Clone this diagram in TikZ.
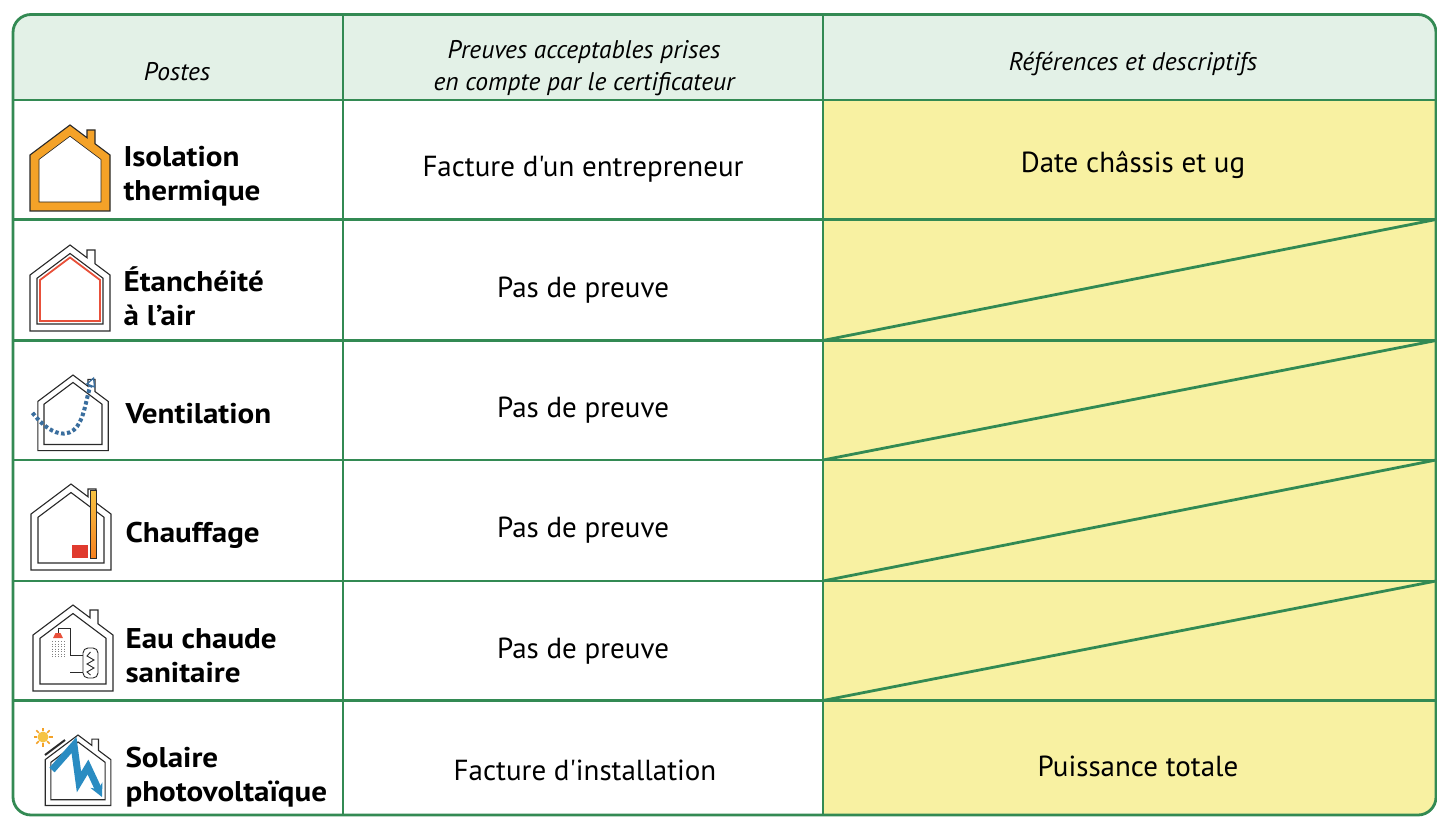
\documentclass[tikz,border=0pt]{standalone}
\usepackage{fontspec}
\newfontfamily\ptsans{PT Sans}
\newfontfamily\ptsanswide{PT Sans}[FakeStretch=1.09]
\usetikzlibrary{arrows.meta}
\definecolor{grid}{HTML}{338A53}
\definecolor{hdr}{HTML}{E3F1E7}
\definecolor{yel}{HTML}{F8F1A2}
\definecolor{orangeins}{HTML}{F4A228}
\definecolor{redair}{HTML}{E8503A}
\definecolor{ventblue}{HTML}{3A6E9E}
\definecolor{boltblue}{HTML}{2A8CC2}
\definecolor{heatred}{HTML}{E03A2E}
\definecolor{sunc}{HTML}{F6C343}
\definecolor{ink}{HTML}{2A2A2A}
\tikzset{
 gridline/.style={draw=grid, line width=2.8pt},
 vline/.style={draw=grid, line width=2.2pt},
 hdrtxt/.style={font=\ptsans\fontsize{25.5}{32}\selectfont\itshape, align=center, text=black},
 bodytxt/.style={font=\ptsans\fontsize{29}{34}\selectfont, text=black},
 postetxt/.style={font=\ptsanswide\fontsize{28.5}{34}\selectfont\bfseries, align=left, anchor=west, text=black},
 houseline/.style={draw=ink, line width=1.1pt, line join=miter},
}
\newcommand{\drawhouse}{%
 \draw[houseline] (-40,86) -- (-40,30) -- (0,0) -- (17,12.75) -- (17,5) -- (25,5) -- (25,18.75) -- (40,30) -- (40,86) -- cycle;
 \draw[houseline] (-33,79) -- (-33,33.25) -- (0,8.5) -- (33,33.25) -- (33,79) -- cycle;}
\begin{document}
\begin{tikzpicture}[x=1pt,y=-1pt]
\useasboundingbox (0,0) rectangle (1437,818);
\fill[white] (0,0) rectangle (1437,818);
% fills
\begin{scope}
\clip[rounded corners=18] (13,14.5) rectangle (1436,815);
\fill[hdr] (13,14.5) rectangle (1436,100);
\fill[yel] (823,100) rectangle (1436,815);
\end{scope}
% grid
\draw[gridline] (13,100) -- (1436,100);
\foreach \y in {219.5,340.5,460,581,700.5} \draw[gridline] (13,\y) -- (1436,\y);
\draw[gridline] (823,340.5) -- (1436,219.5);
\draw[gridline] (823,460) -- (1436,340.5);
\draw[gridline] (823,581) -- (1436,460);
\draw[gridline] (823,700.5) -- (1436,581);
\draw[vline] (343,14.5) -- (343,815);
\draw[vline] (823,14.5) -- (823,815);
\draw[gridline, rounded corners=18] (13,14.5) rectangle (1436,815);
% headers
\node[hdrtxt] (hPostes) at (177,72) {Postes};
\node[hdrtxt] (hPreuves) at (584,68) {Preuves acceptables prises\\en compte par le certificateur};
\node[hdrtxt] (hRef) at (1133,64) {Références et descriptifs};
% left labels
\node[postetxt] (p1) at (120,176) {Isolation\\thermique};
\node[postetxt] (p2) at (120,296) {Étanchéité\\à l’air};
\node[postetxt] (p3) at (122,414) {Ventilation};
\node[postetxt] (p4) at (122,535) {Chauffage};
\node[postetxt] (p5) at (122,656) {Eau chaude\\sanitaire};
\node[postetxt] (p6) at (122,777) {Solaire\\photovoltaïque};
% middle
\node[bodytxt] (m1) at (583,169) {Facture d'un entrepreneur};
\node[bodytxt] (m2) at (583,290) {Pas de preuve};
\node[bodytxt] (m3) at (583,410) {Pas de preuve};
\node[bodytxt] (m4) at (583,530) {Pas de preuve};
\node[bodytxt] (m5) at (583,651) {Pas de preuve};
\node[bodytxt] (m6) at (585,770) {Facture d'installation};
% right
\node[bodytxt] (r1) at (1133,165) {Date châssis et ug};
\node[bodytxt] (r6) at (1138,766) {Puissance totale};
% icon 1: isolation
\begin{scope}[shift={(70,125)}]
\fill[orangeins, even odd rule] (-40,86) -- (-40,30) -- (0,0) -- (17,12.75) -- (17,5) -- (25,5) -- (25,18.75) -- (40,30) -- (40,86) -- cycle
  (-31,77) -- (-31,34.5) -- (0,11.25) -- (31,34.5) -- (31,77) -- cycle;
\draw[houseline] (-40,86) -- (-40,30) -- (0,0) -- (17,12.75) -- (17,5) -- (25,5) -- (25,18.75) -- (40,30) -- (40,86) -- cycle;
\draw[houseline, line width=0.6pt] (-31,77) -- (-31,34.5) -- (0,11.25) -- (31,34.5) -- (31,77) -- cycle;
\end{scope}
% icon 2: etancheite
\begin{scope}[shift={(70,245)}]
\drawhouse
\draw[redair, line width=1.8pt, line join=miter] (-30,76) -- (-30,35) -- (0,12.5) -- (30,35) -- (30,76) -- cycle;
\end{scope}
% icon 3: ventilation
\begin{scope}[shift={(73,375)}, scale=0.88]
\drawhouse
\draw[ventblue, line width=4pt, dash pattern=on 3.5pt off 2.5pt, -{Triangle[open, length=10pt, width=10pt, line width=1.3pt]}]
 (-46,43) .. controls (-25,70) and (-5,72) .. (5,58) .. controls (14,45) and (15,25) .. (24,2);
\end{scope}
% icon 4: chauffage
\begin{scope}[shift={(71,484)}]
\drawhouse
\fill[heatred] (1,61) rectangle (17,74);
\shade[top color=sunc, bottom color=orangeins!80!red] (19,6) rectangle (25,74);
\draw[ink, line width=0.6pt] (19,6) rectangle (25,74);
\end{scope}
% icon 5: eau chaude
\begin{scope}[shift={(73,605)}]
\drawhouse
\draw[ink, line width=0.9pt] (-15,28) -- (-15,23) -- (-3,23) -- (-3,50) -- (10,50);
\draw[ink, line width=0.9pt] (-3,67) -- (10,67);
\draw[ink, line width=0.9pt, rounded corners=5] (10,43) rectangle (25,73);
\draw[ink, line width=0.9pt] (17.5,47) -- (14,51) -- (21,55) -- (14,59) -- (21,63) -- (14,67) -- (17.5,70);
\fill[redair] (-20,33) -- (-10,33) -- (-12.5,28) -- (-17.5,28) -- cycle;
\foreach \xx in {-21,-18,-15,-12,-9} \draw[gray, line width=0.8pt, dash pattern=on 1pt off 1.5pt] (\xx,36) -- (\xx,52);
\end{scope}
% icon 6: solaire
\begin{scope}[shift={(78,735)}, scale=0.82]
\drawhouse
\end{scope}
\draw[boltblue, line width=7pt, line join=miter, -{Stealth[length=13pt, width=13pt]}] (52,770) -- (74,745) -- (79,782) -- (88,767) -- (102,797);
\draw[ink, line width=2pt] (45,755) -- (65,740);
\foreach \a in {0,45,...,315} \draw[orangeins, line width=1.5pt] (43,737) ++(\a:6) -- ++(\a:3.5);
\fill[sunc] (43,737) circle (5.5);
\end{tikzpicture}
\end{document}
